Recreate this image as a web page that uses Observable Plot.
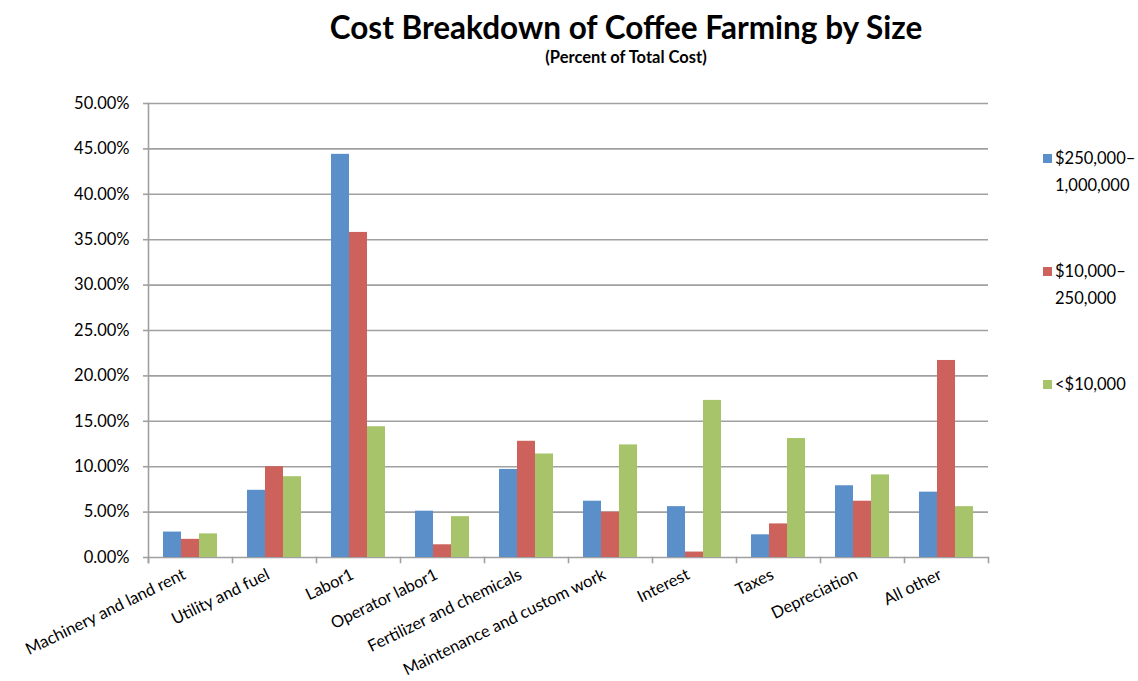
<!DOCTYPE html>
<html>
<head>
<meta charset="utf-8">
<script src="https://cdn.jsdelivr.net/npm/d3@7"></script>
<script src="https://cdn.jsdelivr.net/npm/@observablehq/plot@0.6"></script>
<style>
  html, body { margin: 0; padding: 0; background: #fff; }
  #wrap { position: relative; width: 1138px; height: 681px; font-family: Lato, "Open Sans", sans-serif; color: #000; }
  #title { position: absolute; left: 0; width: 1252px; top: 8px; text-align: center; font-weight: 700; font-size: 31.5px; line-height: 38px; }
  #subtitle { position: absolute; left: 0; width: 1252px; top: 47px; text-align: center; font-weight: 700; font-size: 16.5px; line-height: 20px; }
  #chart { position: absolute; left: 0; top: 0; }
  .legend { position: absolute; left: 1043px; font-size: 16.5px; line-height: 27px; }
  .legend .sw { position: absolute; left: 0; top: 9px; width: 9px; height: 9px; }
  .legend .tx { position: absolute; left: 12px; top: 0; white-space: nowrap; }
</style>
</head>
<body>
<div id="wrap">
  <div id="chart"></div>
  <div id="title">Cost Breakdown of Coffee Farming by Size</div>
  <div id="subtitle">(Percent of Total Cost)</div>
  <div id="legend"></div>
</div>
<script>
const categories = ["Machinery and land rent", "Utility and fuel", "Labor1", "Operator labor1", "Fertilizer and chemicals", "Maintenance and custom work", "Interest", "Taxes", "Depreciation", "All other"];
const series = ["$250,000–1,000,000", "$10,000–250,000", "<$10,000"];
const legendLines = [["$250,000–", "1,000,000"], ["$10,000–", "250,000"], ["<$10,000"]];
const large = [2.8, 7.4, 44.4, 5.1, 9.7, 6.2, 5.6, 2.5, 7.9, 7.2];
const medium = [2.0, 10.0, 35.8, 1.4, 12.8, 5.0, 0.6, 3.7, 6.2, 21.7];
const small = [2.6, 8.9, 14.4, 4.5, 11.4, 12.4, 17.3, 13.1, 9.1, 5.6];
const colors = ["#5b8fc9", "#cd625d", "#a7c46a"];
const yTicks = [0, 5, 10, 15, 20, 25, 30, 35, 40, 45, 50];

const valuesBySeries = [large, medium, small];
const data = [];
categories.forEach((c, i) => {
  series.forEach((s, j) => data.push({category: c, series: s, value: valuesBySeries[j][i]}));
});

const gray = "#a0a0a0";
const plotHeight = 681 - 103 - 124;

const chart = Plot.plot({
  width: 1138,
  height: 681,
  marginLeft: 143,
  marginRight: 146,
  marginTop: 103,
  marginBottom: 124,
  style: {fontFamily: "Lato, 'Open Sans', sans-serif", background: "#fff"},
  fx: {domain: categories, paddingInner: 0, paddingOuter: 0, label: null},
  x: {domain: series, paddingInner: 0, paddingOuter: 0.73, axis: null},
  y: {domain: [0, 50], label: null},
  color: {domain: series, range: colors},
  marks: [
    Plot.ruleY(yTicks, {stroke: gray, strokeWidth: 1.6}),
    Plot.frame({anchor: "left", facetAnchor: "left", stroke: gray, strokeWidth: 1.6, insetBottom: -5}),
    Plot.frame({anchor: "left", stroke: gray, strokeWidth: 1.6, insetTop: plotHeight, insetBottom: -5}),
    Plot.frame({anchor: "right", facetAnchor: "right", stroke: gray, strokeWidth: 1.6, insetTop: plotHeight, insetBottom: -5}),
    Plot.axisY({ticks: yTicks, tickFormat: d => d.toFixed(2) + "%", tickSize: 5, tickPadding: 14, stroke: gray, strokeWidth: 1.6, fontSize: 16.5, color: "#000", label: null}),
    Plot.axisFx({anchor: "bottom", tickSize: 0, tickPadding: 16, tickRotate: -26, dx: -6, fontSize: 16.5, label: null}),
    Plot.barY(data, {fx: "category", x: "series", y: "value", fill: "series"})
  ]
});
document.getElementById("chart").appendChild(chart);

const legendTops = [145, 258, 371];
const legend = document.getElementById("legend");
series.forEach((s, j) => {
  const item = document.createElement("div");
  item.className = "legend";
  item.style.top = legendTops[j] + "px";
  const sw = document.createElement("div");
  sw.className = "sw";
  sw.style.background = colors[j];
  const tx = document.createElement("div");
  tx.className = "tx";
  tx.innerHTML = legendLines[j].join("<br>");
  item.appendChild(sw);
  item.appendChild(tx);
  legend.appendChild(item);
});
</script>
</body>
</html>
